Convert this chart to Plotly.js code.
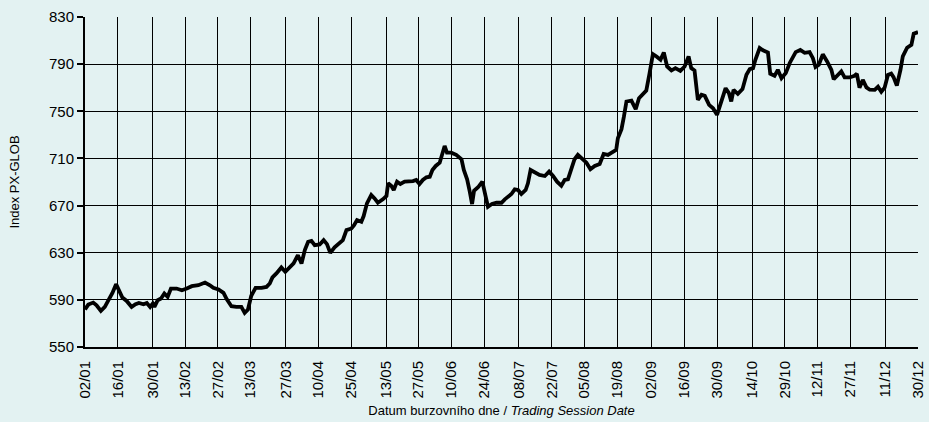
<!DOCTYPE html>
<html>
<head>
<meta charset="utf-8">
<script src="https://cdn.plot.ly/plotly-3.0.1.min.js"></script>
<style>
html,body{margin:0;padding:0;background:#e3f2f2;}
#chart{width:929px;height:422px;}
</style>
</head>
<body>
<div id="chart"></div>
<script>
// Trading-day position (x) and PX-GLOB index value (y)
const sessionPos = [0,1.0,2.5,3.5,4.8,6.0,7.1,8.3,9.4,10.3,11.3,12.6,14.1,15.3,16.3,17.7,18.7,19.7,20.5,21.0,22.0,23.0,24.0,25.0,26.0,27.7,29.3,30.8,32.3,34.3,36.3,37.8,38.8,40.4,41.9,42.9,44.3,45.8,47.3,48.3,49.3,50.3,51.6,53.4,54.9,55.9,56.7,57.9,59.4,60.6,61.9,63.1,64.4,65.5,66.5,67.5,68.5,69.5,71.0,72.2,73.2,74.2,75.5,76.8,78.0,79.1,80.6,81.4,82.3,83.6,84.3,85.3,86.6,87.6,88.6,90.1,91.2,91.7,92.7,93.4,94.4,95.4,96.7,99.2,100.2,101.2,102.2,103.3,104.3,105.1,106.1,107.3,108.1,108.8,109.5,110.8,112.3,113.9,114.6,115.6,116.4,117.1,117.7,118.9,120.2,120.9,121.9,123.1,124.5,126.0,127.0,129.0,130.0,131.0,132.0,133.3,134.0,134.8,136.0,137.5,139.1,140.4,141.6,142.8,144.1,145.1,146.1,147.1,148.1,149.1,150.2,151.7,152.9,154.2,155.7,156.9,158.2,159.7,160.7,161.2,162.3,163.0,163.8,165.3,166.6,167.6,169.0,169.8,170.8,171.8,172.9,174.1,175.1,176.1,177.4,178.6,180.1,181.4,182.6,183.4,184.4,185.4,186.5,187.5,188.8,190.0,191.2,192.5,193.8,194.8,195.5,196.2,197.5,198.9,200.1,201.1,202.1,202.8,204.1,205.1,206.6,207.3,208.6,209.6,210.7,212.0,213.2,215.0,216.4,217.7,219.2,220.2,221.0,222.0,223.2,224.5,225.8,226.5,227.8,228.8,229.8,231.3,232.8,233.5,234.3,235.3,236.4,237.4,238.9,239.9,240.9,241.9,242.9,243.9,244.6,245.6,246.7,247.4,248.7,250.0,250.7,251.3,252.0];
const indexValue = [581.8,586,587.7,585.4,580.6,584,589.7,595.9,603.3,598.2,592,589.1,584,586.3,587.4,586.3,587.4,584,586.9,584,589.7,591.1,595.4,592.5,599.6,599.6,598.2,599.6,601.6,602.4,604.7,602.4,600.2,598.8,595.9,590.5,584.6,584,584,578.9,581.8,593.5,600.2,600.2,601,603.9,609,612.4,617.5,613.8,617.5,620.9,627.9,620.9,632.2,639.3,640.1,636.4,637,640.7,637.3,629.9,634.5,637.9,640.7,649.2,650.6,653.4,657.7,656.3,661.1,671.9,679,676.1,672.4,675.3,678.1,688.9,686.6,683.2,690.3,688.3,690.3,690.8,691.7,688.3,691.7,694,694.5,700.2,703.6,706.4,713,720.6,714.9,714.9,713,709.3,700.2,692.3,681.8,671.3,682.6,685.5,690.3,680.4,669,671.3,672.4,672.4,675.3,679.8,683.8,683.2,679.8,683.2,688.9,700.2,697.9,696,695.1,698.8,695.1,690.3,686.9,691.7,692.3,701.6,709.3,713,710.1,706.4,700.8,703.6,705.3,713.8,713,715.8,717.2,727.1,734.8,745,758.3,759.1,751.8,761.1,764.8,767.6,782.4,798.5,796.5,793.7,799.9,788,784.6,786.6,784.3,788,796.5,786.6,784.6,759.7,764,763.1,755.4,752.6,747,758.3,769.6,765.4,758.3,768.2,764.8,768.8,781,785.8,786.6,793.7,803.7,801.7,799.9,781.8,780.1,785.2,778.1,782.4,791,800.2,802,799.6,800.2,795.1,787.6,789.5,798.3,792.3,785.2,777.2,781.5,783.8,778.7,778.7,780.1,781.8,770,776.6,770.3,768.3,768.2,770.8,766.6,770,780.8,782,779,771.8,785.2,796.6,803.9,806.4,815.8,816.8,817.2];
const tickPos = [0,9.9,20.5,30.4,40.2,50.1,60.7,70.6,80.6,91.1,100.9,110.9,120.8,131.2,141.2,151.1,161.0,171.4,181.3,191.3,201.9,211.7,221.6,231.6,242.1,252.0];
const tickLabels = ["02/01","16/01","30/01","13/02","27/02","13/03","27/03","10/04","25/04","13/05","27/05","10/06","24/06","08/07","22/07","05/08","19/08","02/09","16/09","30/09","14/10","29/10","12/11","27/11","11/12","30/12"];
const yTicks = [550,590,630,670,710,750,790,830];

const FONT = '"Liberation Sans Narrow", "Liberation Sans", Arial, sans-serif';
const BG = '#e3f2f2';

Plotly.newPlot('chart', [{
  x: sessionPos,
  y: indexValue,
  type: 'scatter',
  mode: 'lines',
  line: {color: '#000000', width: 3.8, shape: 'linear'},
  hoverinfo: 'skip'
}], {
  width: 929, height: 422,
  paper_bgcolor: BG, plot_bgcolor: BG,
  margin: {l: 85, r: 11, t: 17, b: 75},
  showlegend: false,
  font: {family: FONT, color: '#000000', size: 15},
  xaxis: {
    range: [0, 252], tickmode: 'array', tickvals: tickPos, ticktext: tickLabels,
    tickangle: -90, tickfont: {family: FONT, size: 15},
    showgrid: true, gridcolor: '#000000', gridwidth: 1,
    showline: true, linecolor: '#000000', linewidth: 2, mirror: false,
    ticks: 'outside', ticklen: 6, tickcolor: BG, zeroline: false,
    automargin: false,
    title: {text: 'Datum burzovního dne / <i>Trading Session Date</i>', font: {family: FONT, size: 13}, standoff: 8}
  },
  yaxis: {
    range: [550, 830], tickmode: 'array', tickvals: yTicks,
    tickfont: {family: FONT, size: 15},
    showgrid: true, gridcolor: '#000000', gridwidth: 1,
    showline: true, linecolor: '#000000', linewidth: 2,
    ticks: 'outside', ticklen: 6, tickcolor: '#000000', tickwidth: 2, zeroline: false,
    automargin: false,
    title: {text: 'Index PX-GLOB', font: {family: FONT, size: 13}, standoff: 26}
  }
}, {staticPlot: true});
</script>
</body>
</html>
